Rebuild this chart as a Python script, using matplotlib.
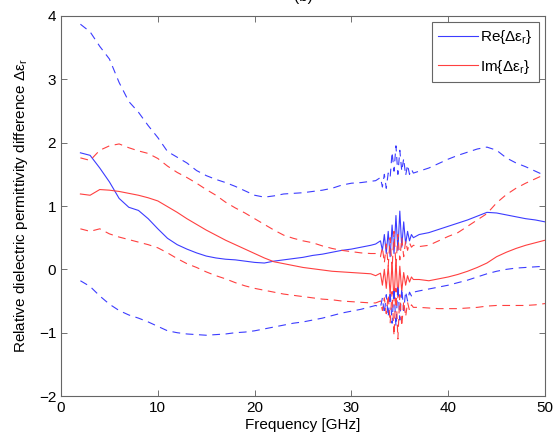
import matplotlib
matplotlib.use('Agg')
import matplotlib.pyplot as plt
import numpy as np

plt.rcParams['font.family'] = ['Liberation Sans', 'DejaVu Sans']
plt.rcParams['mathtext.fontset'] = 'custom'
plt.rcParams['mathtext.rm'] = 'Liberation Sans'
plt.rcParams['mathtext.it'] = 'Liberation Sans'

# frequency grid [GHz]: coarse, dense around the 34 GHz resonance, coarse again
freq_lo = np.arange(2, 33)
freq_mid = [32.5, 33.0, 33.2, 33.4, 33.6, 33.8, 34.0, 34.2, 34.4, 34.6,
            34.8, 35.0, 35.2, 35.4, 35.6, 35.8, 36.0, 36.2, 36.4]
freq_hi = np.arange(37, 51)
freq = np.concatenate([freq_lo, freq_mid, freq_hi])

# Re{d eps_r}: estimate, upper and lower bounds
re = [1.84, 1.8, 1.6, 1.38, 1.12, 0.98, 0.93, 0.8, 0.64, 0.49, 0.39, 0.32, 0.26,
      0.21, 0.18, 0.16, 0.15, 0.13, 0.11, 0.1, 0.13, 0.15, 0.17, 0.19, 0.22, 0.24,
      0.27, 0.3, 0.32, 0.35, 0.38,
      0.4, 0.45, 0.3, 0.55, 0.25, 0.6, 0.2, 0.7, 0.25, 0.85, 0.3, 0.92, 0.35,
      0.75, 0.4, 0.6, 0.45, 0.55, 0.5,
      0.55, 0.58, 0.63, 0.68, 0.73, 0.78, 0.84, 0.9, 0.89, 0.86, 0.83, 0.8, 0.78, 0.75]
re_hi = [3.87, 3.75, 3.52, 3.32, 2.95, 2.65, 2.48, 2.27, 2.08, 1.86, 1.77, 1.68,
         1.56, 1.48, 1.42, 1.37, 1.31, 1.24, 1.17, 1.14, 1.16, 1.19, 1.2, 1.21,
         1.23, 1.25, 1.28, 1.33, 1.36, 1.37, 1.39,
         1.4, 1.45, 1.3, 1.5, 1.28, 1.52, 1.45, 1.85, 1.55, 1.95, 1.5, 1.88, 1.55,
         1.75, 1.48, 1.65, 1.5, 1.58, 1.52,
         1.55, 1.6, 1.67, 1.74, 1.8, 1.85, 1.9, 1.93, 1.88, 1.76, 1.68, 1.62, 1.55, 1.48]
re_lo = [-0.18, -0.27, -0.42, -0.55, -0.65, -0.72, -0.77, -0.83, -0.9, -0.97, -1.0,
         -1.02, -1.03, -1.04, -1.03, -1.02, -1.0, -0.99, -0.97, -0.94, -0.91, -0.88,
         -0.85, -0.83, -0.8, -0.77, -0.73, -0.69, -0.66, -0.63, -0.59,
         -0.57, -0.6, -0.45, -0.7, -0.4, -0.75, -0.35, -0.85, -0.3, -0.9, -0.25,
         -0.8, -0.3, -0.65, -0.35, -0.5, -0.36, -0.42, -0.36,
         -0.34, -0.31, -0.28, -0.25, -0.21, -0.17, -0.12, -0.07, -0.03, 0.0, 0.02,
         0.03, 0.04, 0.05]

# Im{d eps_r}: estimate, upper and lower bounds
im = [1.19, 1.17, 1.26, 1.25, 1.23, 1.2, 1.17, 1.13, 1.08, 0.99, 0.9, 0.8, 0.71,
      0.62, 0.54, 0.46, 0.39, 0.32, 0.25, 0.18, 0.12, 0.09, 0.06, 0.03, 0.01,
      -0.01, -0.03, -0.04, -0.05, -0.06, -0.07,
      -0.1, -0.06, -0.25, 0.0, -0.3, 0.05, -0.4, 0.1, -0.5, 0.15, -0.45, 0.05,
      -0.35, -0.05, -0.25, -0.1, -0.2, -0.12, -0.16,
      -0.16, -0.18, -0.15, -0.12, -0.08, -0.03, 0.03, 0.1, 0.2, 0.27, 0.33, 0.38,
      0.42, 0.46]
im_hi = [1.76, 1.72, 1.88, 1.95, 1.98, 1.92, 1.87, 1.83, 1.75, 1.63, 1.53, 1.45,
         1.36, 1.26, 1.17, 1.06, 0.97, 0.89, 0.8, 0.71, 0.62, 0.54, 0.49, 0.45,
         0.42, 0.37, 0.33, 0.3, 0.28, 0.26, 0.25,
         0.25, 0.2, 0.35, 0.1, 0.4, 0.05, 0.5, 0.0, 0.6, 0.05, 0.55, 0.15, 0.5,
         0.2, 0.45, 0.3, 0.42, 0.35, 0.38,
         0.36, 0.38, 0.45, 0.52, 0.58, 0.68, 0.78, 0.88, 1.05, 1.18, 1.28, 1.36,
         1.43, 1.5]
im_lo = [0.64, 0.6, 0.64, 0.56, 0.51, 0.47, 0.43, 0.39, 0.34, 0.26, 0.17, 0.09,
         0.03, -0.04, -0.1, -0.15, -0.21, -0.26, -0.3, -0.33, -0.36, -0.39, -0.41,
         -0.43, -0.45, -0.47, -0.48, -0.5, -0.51, -0.52, -0.53,
         -0.53, -0.5, -0.65, -0.45, -0.7, -0.4, -0.85, -0.35, -1.05, -0.3, -1.1,
         -0.4, -0.9, -0.5, -0.75, -0.52, -0.65, -0.56, -0.6,
         -0.6, -0.61, -0.62, -0.62, -0.62, -0.61, -0.6, -0.58, -0.57, -0.57, -0.57,
         -0.57, -0.56, -0.54]

blue = '#3c3cff'
red = '#ff4040'
dash = (0, (7, 5))

fig = plt.figure(figsize=(5.55, 4.44), dpi=100)
ax = fig.add_axes([0.110, 0.108, 0.872, 0.856])

ax.plot(freq, re, color=blue, lw=0.8, label=r'Re{Δε$_r$}')
ax.plot(freq, im, color=red, lw=0.8, label=r'Im{Δε$_r$}')
ax.plot(freq, re_hi, color=blue, lw=0.8, ls=dash)
ax.plot(freq, re_lo, color=blue, lw=0.8, ls=dash)
ax.plot(freq, im_hi, color=red, lw=0.8, ls=dash)
ax.plot(freq, im_lo, color=red, lw=0.8, ls=dash)

ax.set_xlim(0, 50)
ax.set_ylim(-2, 4)
ax.set_xticks(np.arange(0, 51, 10))
ax.set_yticks(np.arange(-2, 5, 1))
ax.tick_params(direction='in', top=True, right=True, length=4, width=0.6,
               colors='0.35', labelcolor='black', labelsize=11)
for s in ax.spines.values():
    s.set_color('0.4')
    s.set_linewidth(0.8)

ax.set_xlabel('Frequency [GHz]', fontsize=11, labelpad=2)
ax.set_ylabel(r'Relative dielectric permittivity difference Δε$_r$', fontsize=11,
              labelpad=6)
ax.set_title('(b)', fontsize=11, pad=11)

leg = ax.legend(loc='upper right', fontsize=11, handlelength=2.6,
                handletextpad=0.15, borderaxespad=0.4, labelspacing=0.75,
                fancybox=False, framealpha=1, borderpad=0.4)
leg.get_frame().set_edgecolor('0.4')
leg.get_frame().set_linewidth(0.8)

fig.savefig('out.png', dpi=100)
